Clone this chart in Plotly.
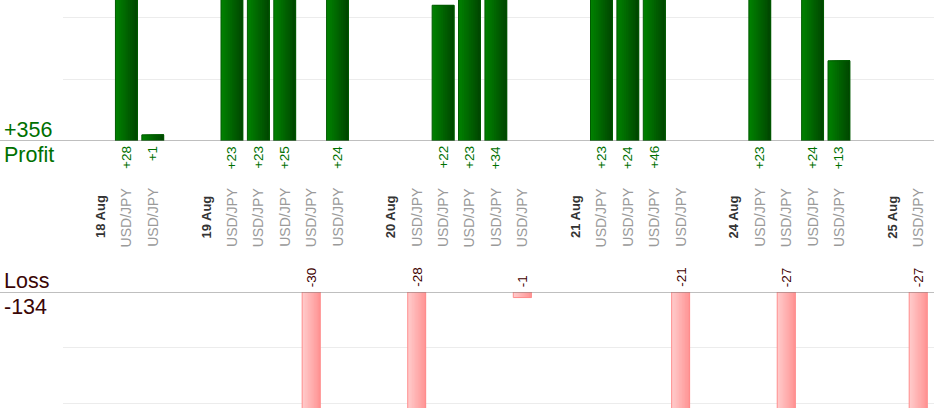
import plotly.graph_objects as go

# ---- data ----
categories = ["18 Aug", "USD/JPY", "USD/JPY", "",
              "19 Aug", "USD/JPY", "USD/JPY", "USD/JPY", "USD/JPY", "USD/JPY", "",
              "20 Aug", "USD/JPY", "USD/JPY", "USD/JPY", "USD/JPY", "USD/JPY", "",
              "21 Aug", "USD/JPY", "USD/JPY", "USD/JPY", "USD/JPY", "",
              "24 Aug", "USD/JPY", "USD/JPY", "USD/JPY", "USD/JPY", "",
              "25 Aug", "USD/JPY"]
pnl = [None, 28, 1, None,
       None, 23, 23, 25, -30, 24, None,
       None, -28, 22, 23, 34, -1, None,
       None, 23, 24, 46, -21, None,
       None, 23, -27, 24, 13, None,
       None, -27]
date_labels = ["18 Aug", "19 Aug", "20 Aug", "21 Aug", "24 Aug", "25 Aug"]
total_profit_label = "+356"
total_loss_label = "-134"

W, H = 934, 420
def py(p):
    return 1 - p / H

xs = list(range(len(categories)))
profit_x = [i for i, v in zip(xs, pnl) if v is not None and v > 0]
profit_y = [v for v in pnl if v is not None and v > 0]
loss_x = [i for i, v in zip(xs, pnl) if v is not None and v < 0]
loss_y = [v for v in pnl if v is not None and v < 0]

fig = go.Figure()

def lerp(c1, c2, t):
    return "rgb(%d,%d,%d)" % tuple(round(a + (b - a) * t) for a, b in zip(c1, c2))

def gradient_bars(x, y, yaxis, width, c_left, c_right, border, n=12):
    step = width / n
    for k in range(n):
        fig.add_trace(go.Bar(
            x=x, y=y, yaxis=yaxis, width=width - k * step,
            offset=-width / 2 + k * step,
            marker=dict(color=lerp(c_left, c_right, k / (n - 1)), line=dict(width=0)),
            hoverinfo="skip", showlegend=False))
    fig.add_trace(go.Bar(
        x=x, y=y, yaxis=yaxis, width=width,
        marker=dict(color="rgba(0,0,0,0)", line=dict(width=1, color=border)),
        hoverinfo="skip", showlegend=False))

gradient_bars(profit_x, profit_y, "y", 0.83, (0, 128, 0), (0, 72, 0), "rgb(0,90,0)")
gradient_bars(loss_x, loss_y, "y2", 0.68, (255, 202, 202), (255, 150, 150), "rgb(255,140,140)")

annotations = []
font_family = "Liberation Sans, Arial, sans-serif"

# category labels
for i, c in zip(xs, categories):
    if not c:
        continue
    is_date = c in date_labels
    annotations.append(dict(
        x=i, xref="x", y=py(217), yref="paper", text=("<b>%s</b>" % c) if is_date else c,
        textangle=-90, showarrow=False, xanchor="center", yanchor="middle",
        font=dict(family=font_family, size=13 if is_date else 14,
                  color="#333333" if is_date else "#9a9a9a")))

# value labels
for i, v in zip(profit_x, profit_y):
    annotations.append(dict(
        x=i, xref="x", y=0, yref="y", text="+%d" % v, textangle=-90, showarrow=False,
        xanchor="center", yanchor="top", yshift=-3,
        font=dict(family=font_family, size=13.5, color="#007000")))
for i, v in zip(loss_x, loss_y):
    annotations.append(dict(
        x=i, xref="x", y=0, yref="y2", text="%d" % v, textangle=-90, showarrow=False,
        xanchor="center", yanchor="bottom", yshift=3,
        font=dict(family=font_family, size=13.5, color="#400000")))

# totals
big_green = dict(family=font_family, size=21.5, color="#007000")
big_red = dict(family=font_family, size=21.5, color="#3a0606")
annotations += [
    dict(x=2 / W, xref="paper", y=py(129.5), yref="paper", text=total_profit_label,
         showarrow=False, xanchor="left", yanchor="middle", font=big_green),
    dict(x=2 / W, xref="paper", y=py(155), yref="paper", text="Profit",
         showarrow=False, xanchor="left", yanchor="middle", font=big_green),
    dict(x=2 / W, xref="paper", y=py(281), yref="paper", text="Loss",
         showarrow=False, xanchor="left", yanchor="middle", font=big_red),
    dict(x=2 / W, xref="paper", y=py(306.5), yref="paper", text=total_loss_label,
         showarrow=False, xanchor="left", yanchor="middle", font=big_red),
]

shapes = [
    dict(type="line", xref="paper", x0=0, x1=1, yref="y", y0=0, y1=0,
         line=dict(color="#808080", width=1.2), layer="above"),
    dict(type="line", xref="paper", x0=0, x1=1, yref="y2", y0=0, y1=0,
         line=dict(color="#808080", width=1.2), layer="above"),
]

fig.update_layout(
    width=W, height=H, margin=dict(l=0, r=0, t=0, b=0),
    paper_bgcolor="white", plot_bgcolor="white",
    barmode="overlay", showlegend=False,
    xaxis=dict(domain=[63 / W, 1], range=[-1.402, 31.6], showgrid=False, zeroline=False,
               showticklabels=False, ticks="", showline=False, fixedrange=True),
    yaxis=dict(domain=[py(141), 1], range=[0, 22.85], tickvals=[10, 20], showgrid=True,
               gridcolor="#ececec", gridwidth=1, zeroline=False, showticklabels=False,
               ticks="", showline=False, anchor="x"),
    yaxis2=dict(domain=[py(408), py(292)], range=[-20.9, 0], tickvals=[-10, -20],
                showgrid=True, gridcolor="#ececec", gridwidth=1, zeroline=False,
                showticklabels=False, ticks="", showline=False, anchor="x"),
    annotations=annotations, shapes=shapes,
)

fig.write_html("out.html", config={"displayModeBar": False},
               post_script="document.body.style.margin='0';document.body.style.overflow='hidden';")
